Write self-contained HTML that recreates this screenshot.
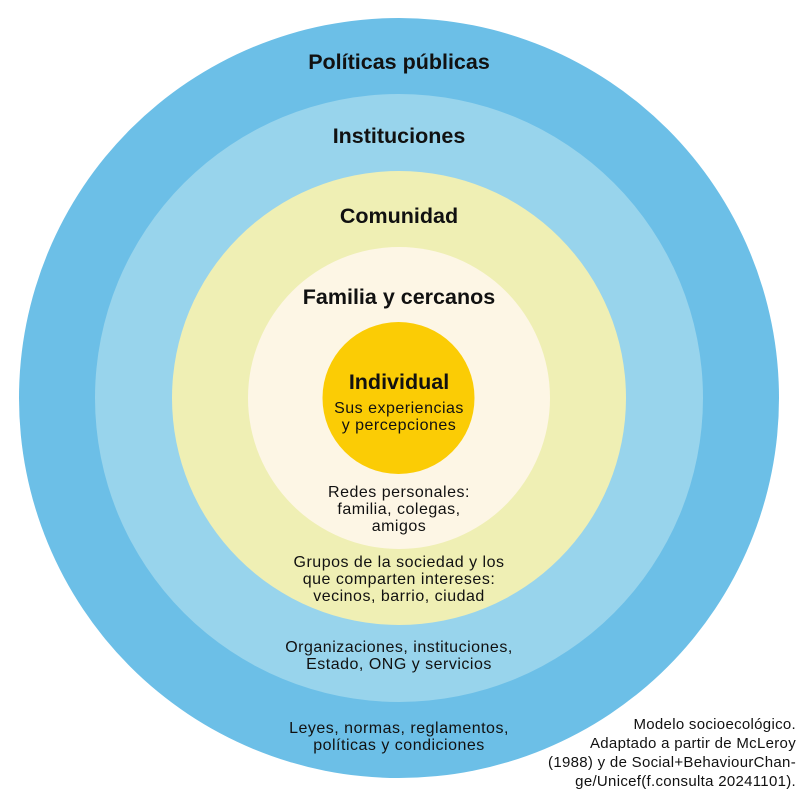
<!DOCTYPE html>
<html><head><meta charset="utf-8"><style>
html,body{margin:0;padding:0;background:#fff;}
svg{display:block;}
text{font-family:"Liberation Sans",sans-serif;fill:#111;}
.t{font-weight:bold;font-size:21.5px;}
.b{font-size:16px;letter-spacing:0.5px;}
</style></head><body>
<svg width="800" height="795" viewBox="0 0 800 795">
<circle cx="399" cy="398" r="380" fill="#6cbfe7"/>
<circle cx="399" cy="398" r="304" fill="#98d4ec"/>
<circle cx="399" cy="398" r="227" fill="#efefb4"/>
<circle cx="399" cy="398" r="151" fill="#fdf6e5"/>
<circle cx="398.5" cy="398" r="76" fill="#fbcc05"/>
<g text-anchor="middle">
<text class="t" x="399" y="69">Políticas públicas</text>
<text class="t" x="399" y="143">Instituciones</text>
<text class="t" x="399" y="223">Comunidad</text>
<text class="t" x="399" y="304">Familia y cercanos</text>
<text class="t" x="399" y="389">Individual</text>
<text class="b" x="399" y="413">Sus experiencias</text>
<text class="b" x="399" y="430">y percepciones</text>
<text class="b" x="399" y="497">Redes personales:</text>
<text class="b" x="399" y="514">familia, colegas,</text>
<text class="b" x="399" y="531">amigos</text>
<text class="b" x="399" y="567">Grupos de la sociedad y los</text>
<text class="b" x="399" y="584">que comparten intereses:</text>
<text class="b" x="399" y="601">vecinos, barrio, ciudad</text>
<text class="b" x="399" y="652">Organizaciones, instituciones,</text>
<text class="b" x="399" y="669">Estado, ONG y servicios</text>
<text class="b" x="399" y="733">Leyes, normas, reglamentos,</text>
<text class="b" x="399" y="750">políticas y condiciones</text>
</g>
<g text-anchor="end" font-size="15" letter-spacing="0.3">
<text x="796" y="729">Modelo socioecológico.</text>
<text x="796" y="748">Adaptado a partir de McLeroy</text>
<text x="796" y="767">(1988) y de Social+BehaviourChan-</text>
<text x="796" y="786">ge/Unicef(f.consulta 20241101).</text>
</g>
</svg>
</body></html>
